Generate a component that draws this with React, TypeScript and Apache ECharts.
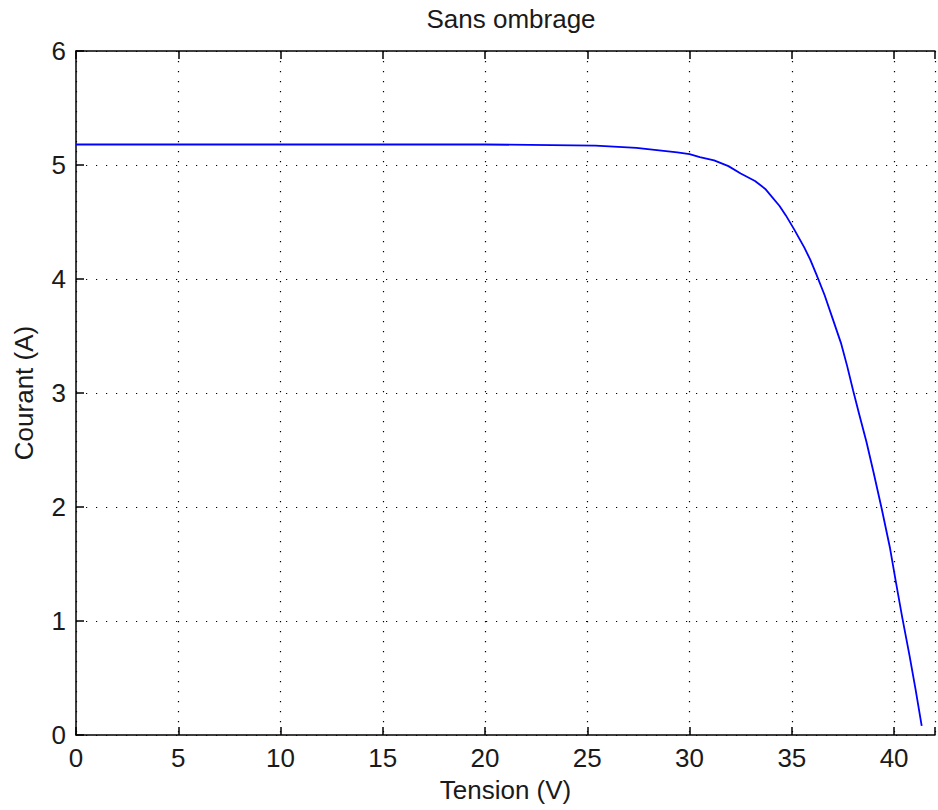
import React, { useEffect, useRef } from "react";
import * as echarts from "echarts";

const tension: number[] = [0, 5, 10, 15, 20, 25.4, 27.4, 28.4, 29.4, 30.0, 30.5, 31.2, 31.9, 32.5, 33.2, 33.7, 34.4, 34.7, 35.1, 35.6, 35.9, 36.2, 36.6, 37.0, 37.4, 37.7, 38.0, 38.3, 38.65, 39.0, 39.4, 39.8, 40.1, 40.4, 40.75, 41.05, 41.35];
const courant: number[] = [5.18, 5.18, 5.18, 5.18, 5.18, 5.17, 5.15, 5.13, 5.11, 5.095, 5.07, 5.04, 4.99, 4.925, 4.86, 4.79, 4.64, 4.56, 4.44, 4.28, 4.17, 4.04, 3.86, 3.65, 3.44, 3.24, 3.02, 2.81, 2.57, 2.3, 1.98, 1.64, 1.33, 1.03, 0.7, 0.4, 0.08];
const xTicks: number[] = [0, 5, 10, 15, 20, 25, 30, 35, 40];
const yTicks: number[] = [0, 1, 2, 3, 4, 5, 6];
const titleText = "Sans ombrage";
const xName = "Tension (V)";
const yName = "Courant (A)";

const FONT = "Liberation Sans";

export default function App() {
  const ref = useRef<HTMLDivElement>(null);
  useEffect(() => {
    if (!ref.current) return;
    const chart = echarts.init(ref.current, undefined, { renderer: "svg" });
    const grid = { left: 76, top: 51, width: 870, bottom: 75 };
    const dotted = { color: "#000", width: 1.2, type: [1.2, 8.8] as number[] };
    const axisTextStyle = { color: "#1a1a1a", fontFamily: FONT, fontSize: 26 };
    const axisLine = { onZero: false, lineStyle: { color: "#000", width: 1.5 } };
    const axisTick = { inside: true, length: 8, lineStyle: { color: "#000", width: 1.5 } };
    chart.setOption({
      animation: false,
      backgroundColor: "#fff",
      title: {
        text: titleText,
        left: 511,
        top: 6,
        padding: 0,
        textAlign: "center",
        textStyle: { color: "#1a1a1a", fontFamily: FONT, fontSize: 26, fontWeight: "normal" },
      },
      grid,
      xAxis: [
        {
          type: "value",
          min: 0,
          max: 42,
          interval: 5,
          name: xName,
          nameLocation: "middle",
          nameGap: 42,
          nameTextStyle: axisTextStyle,
          axisLine,
          axisTick,
          axisLabel: {
            ...axisTextStyle,
            margin: 10,
            formatter: (v: number) => (xTicks.includes(v) ? String(v) : ""),
          },
          splitLine: { show: true, lineStyle: dotted },
        },
        {
          type: "value",
          position: "top",
          min: 0,
          max: 42,
          interval: 5,
          axisLine,
          axisTick,
          axisLabel: { show: false },
          splitLine: { show: false },
        },
      ],
      yAxis: {
        type: "value",
        min: 0,
        max: 6,
        interval: 1,
        name: yName,
        nameLocation: "middle",
        nameGap: 39,
        nameTextStyle: axisTextStyle,
        axisLine,
        axisTick,
        axisLabel: {
          ...axisTextStyle,
          margin: 10,
          formatter: (v: number) => (yTicks.includes(v) ? String(v) : ""),
        },
        splitLine: { show: true, lineStyle: dotted },
      },
      series: [
        {
          type: "line",
          data: tension.map((t, i) => [t, courant[i]]),
          showSymbol: false,
          symbol: "none",
          lineStyle: { color: "#0000ff", width: 1.8 },
          xAxisIndex: 0,
        },
      ],
    });
    return () => chart.dispose();
  }, []);
  return (
    <div
      ref={ref}
      style={{ position: "fixed", left: 0, top: 0, width: 938, height: 810, background: "#fff" }}
    />
  );
}
